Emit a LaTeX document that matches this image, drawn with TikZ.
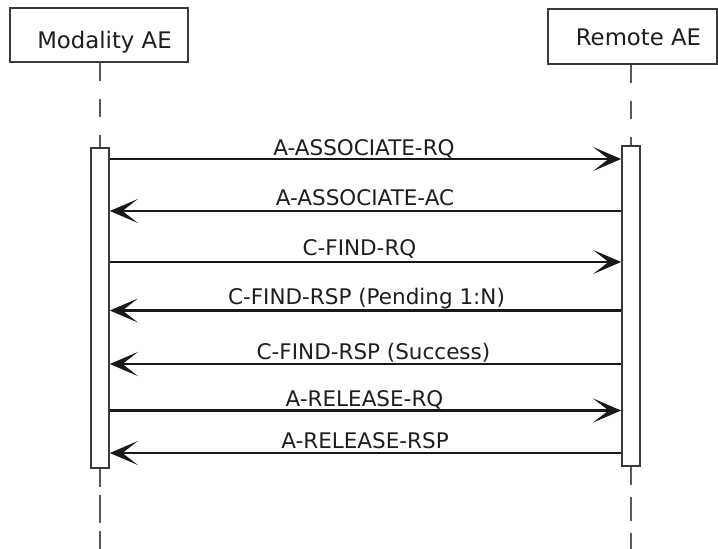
\documentclass[tikz,border=0pt]{standalone}
\usepackage{fontspec}
\setmainfont{DejaVu Sans}
\usetikzlibrary{arrows.meta}
\definecolor{boxline}{HTML}{3A3A3A}
\definecolor{txt}{HTML}{1E1E1E}
\tikzset{msgtip/.tip={Stealth[length=28pt,width=24pt,inset=15.5pt,line width=1pt]}}
\begin{document}
\begin{tikzpicture}[x=1pt,y=-1pt,
  titlebox/.style={draw=boxline,line width=1.8pt,fill=white,inner sep=0pt},
  titletext/.style={text=txt,anchor=base,inner sep=0pt,font=\fontsize{22.8}{26}\selectfont},
  actbox/.style={draw=boxline,line width=1.8pt,fill=white,inner sep=0pt,minimum width=18pt,minimum height=320pt},
  lifeline/.style={draw=boxline!85,line width=1.4pt,dash pattern=on 18pt off 18pt},
  msg/.style={draw=black!90,line width=2.6pt,-msgtip},
  msglabel/.style={text=txt,anchor=base,inner sep=0pt,font=\fontsize{21.5}{25}\selectfont}]
\useasboundingbox (0,0) rectangle (718,549);
% title boxes
\node[titlebox,minimum width=178pt,minimum height=54pt] (modbox) at (99,35) {};
\node[titlebox,minimum width=169pt,minimum height=55pt] (rembox) at (632.5,36.5) {};
\node[titletext] (modtxt) at (104.5,48) {Modality AE};
\node[titletext] (remtxt) at (638.5,45) {Remote AE};
% lifeline anchors
\coordinate (modend) at (100,560);
\coordinate (remend) at (631,560);
\draw[lifeline] (modbox.south -| 100,0) -- (modend);
\draw[lifeline] (rembox.south -| 631,0) -- (remend);
% activation boxes
\node[actbox] (actL) at (100,308) {};
\node[actbox] (actR) at (631,306) {};
\draw[lifeline] (actL.south) -- (modend);
\draw[lifeline] (actR.south) -- (remend);
% messages
\draw[msg] (actL.east |- 0,159) -- (actR.west |- 0,159);
\node[msglabel] (l1) at (364,155) {A-ASSOCIATE-RQ};
\draw[msg] (actR.west |- 0,211) -- (actL.east |- 0,211);
\node[msglabel] (l2) at (365,205) {A-ASSOCIATE-AC};
\draw[msg] (actL.east |- 0,262) -- (actR.west |- 0,262);
\node[msglabel] (l3) at (359.5,255) {C-FIND-RQ};
\draw[msg] (actR.west |- 0,310.5) -- (actL.east |- 0,310.5);
\node[msglabel] (l4) at (366.5,304) {C-FIND-RSP (Pending 1:N)};
\draw[msg] (actR.west |- 0,364) -- (actL.east |- 0,364);
\node[msglabel] (l5) at (373.5,359) {C-FIND-RSP (Success)};
\draw[msg] (actL.east |- 0,410.5) -- (actR.west |- 0,410.5);
\node[msglabel] (l6) at (364.5,406) {A-RELEASE-RQ};
\draw[msg] (actR.west |- 0,453) -- (actL.east |- 0,453);
\node[msglabel] (l7) at (365,448) {A-RELEASE-RSP};
\end{tikzpicture}
\end{document}
